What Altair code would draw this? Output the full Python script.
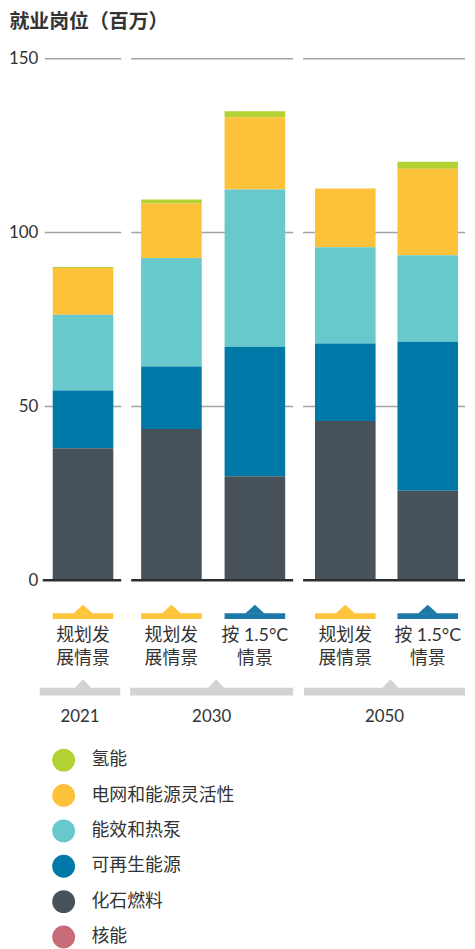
import altair as alt
import pandas as pd

# ---------------- data ----------------
categories = ["氢能", "电网和能源灵活性", "能效和热泵", "可再生能源", "化石燃料", "核能"]
cat_colors = ["#b3d334", "#fec23a", "#67c9cb", "#0079a9", "#48525a", "#c86c7a"]
stack_rank = [5, 4, 3, 2, 1, 0]  # 0 = bottom of the stack

bar_ids = ["2021 规划发展情景", "2030 规划发展情景", "2030 按1.5°C情景",
           "2050 规划发展情景", "2050 按1.5°C情景"]
bar_years = ["2021", "2030", "2030", "2050", "2050"]
scenario_line1 = ["规划发", "规划发", "按 1.5°C", "规划发", "按 1.5°C"]
scenario_line2 = ["展情景", "展情景", "情景", "展情景", "情景"]
scenario_colors = ["#fec43a", "#fec43a", "#1f79a8", "#fec43a", "#1f79a8"]

hydrogen = [0.3, 1.1, 1.7, 0.0, 2.0]
grid_flex = [13.4, 15.7, 20.8, 16.9, 24.9]
efficiency = [21.8, 31.2, 45.2, 27.7, 24.9]
renewables = [16.6, 18.0, 37.3, 22.3, 42.8]
fossil = [38.0, 43.5, 29.9, 45.8, 25.8]
nuclear = [0.0, 0.0, 0.0, 0.0, 0.0]

years = ["2021", "2030", "2050"]
y_ticks = [0, 50, 100, 150]
grid_values = [50, 100, 150]

# ---------------- layout (panel sizes / band paddings / group bracket) ----------------
panel_widths = [77, 163, 163]
band_pad = [(0.2, 0.1, 0.5), (0.5, 0.2202, 0.527), (0.5, 0.232, 0.565)]  # inner, outer, align
bracket_x = [(-5, 76), (-1, 163), (1, 163)]
bracket_tip = [38.5, 85.5, 88]

# ---------------- tables ----------------
series = [hydrogen, grid_flex, efficiency, renewables, fossil, nuclear]
rows = []
for i, bid in enumerate(bar_ids):
    for c, s, r in zip(categories, series, stack_rank):
        rows.append({"bar": bid, "year": bar_years[i], "cat": c, "value": s[i], "rank": r})
df = pd.DataFrame(rows)

scen_df = pd.DataFrame({"bar": bar_ids, "year": bar_years, "line1": scenario_line1,
                        "line2": scenario_line2, "mcolor": scenario_colors})

FONT = "Lato, 'Noto Sans CJK SC', sans-serif"
TXT = "#333333"
H = 525
TITLE = "就业岗位（百万）"

legend = alt.Legend(orient="none", legendX=7.5, legendY=694.5, title=None,
                    symbolType="circle", symbolSize=529, symbolStrokeWidth=0,
                    symbolOpacity=1, labelFontSize=18, labelColor=TXT,
                    labelFont=FONT, labelOffset=16.5, rowPadding=12.6,
                    padding=0, labelLimit=400, direction="vertical")


def panel(k):
    year, W = years[k], panel_widths[k]
    pin, pout, palign = band_pad[k]
    ids = [b for b, y in zip(bar_ids, bar_years) if y == year]
    xs = alt.Scale(domain=ids, paddingInner=pin, paddingOuter=pout, align=palign)
    ys = alt.Scale(domain=[0, 150], nice=False)
    if k == 0:
        yaxis = alt.Axis(values=y_ticks, title=TITLE, titleAngle=0,
                         titleAlign="left", titleBaseline="top", titleX=-36, titleY=-47.5,
                         titleFontSize=20, titleFontWeight="bold", titleColor=TXT,
                         titleFont=FONT, labelFontSize=17, labelColor=TXT, labelFont=FONT,
                         labelPadding=7, ticks=False, domain=False, grid=False,
                         labelFlush=False)
    else:
        yaxis = None

    sub = df[df["year"] == year]
    sc = scen_df[scen_df["year"] == year]
    one = pd.DataFrame({"year": [year]})
    bx1, bx2 = bracket_x[k]

    gridl = alt.Chart(pd.DataFrame({"v": grid_values})).mark_rule(
        color="#a3a3a3", strokeWidth=1.5).encode(
        y=alt.Y("v:Q", scale=ys, axis=yaxis, title=TITLE),
        x=alt.value(0), x2=alt.value(W))

    bars = alt.Chart(sub).mark_bar(width=61).encode(
        x=alt.X("bar:N", scale=xs, axis=None),
        y=alt.Y("value:Q", stack=True, scale=ys, axis=yaxis, title=TITLE),
        color=alt.Color("cat:N", scale=alt.Scale(domain=categories, range=cat_colors),
                        legend=legend),
        order=alt.Order("rank:Q", sort="ascending"),
    )

    base = alt.Chart(pd.DataFrame({"v": [0]})).mark_rule(
        color="#2e2e2e", strokeWidth=2.5).encode(
        y=alt.Y("v:Q", scale=ys, axis=yaxis, title=TITLE),
        x=alt.value(-2 if k == 0 else 0), x2=alt.value(W))

    mark_bar = alt.Chart(sc).mark_bar(width=61).encode(
        x=alt.X("bar:N", scale=xs, axis=None),
        y=alt.value(558), y2=alt.value(564),
        fill=alt.Fill("mcolor:N", scale=None))

    mark_tri = alt.Chart(sc).mark_point(
        shape="M-1,0L0,-0.9L1,0Z", size=400, filled=True, opacity=1, strokeWidth=0).encode(
        x=alt.X("bar:N", scale=xs, axis=None),
        y=alt.value(558.5),
        fill=alt.Fill("mcolor:N", scale=None))

    label1 = alt.Chart(sc).mark_text(
        fontSize=18, baseline="middle", align="center", color=TXT, font=FONT).encode(
        x=alt.X("bar:N", scale=xs, axis=None),
        y=alt.value(581.5),
        text="line1:N")

    label2 = alt.Chart(sc).mark_text(
        fontSize=18, baseline="middle", align="center", color=TXT, font=FONT).encode(
        x=alt.X("bar:N", scale=xs, axis=None),
        y=alt.value(604),
        text="line2:N")

    gbar = alt.Chart(one).mark_rect(color="#d3d3d5").encode(
        x=alt.value(bx1), x2=alt.value(bx2), y=alt.value(633), y2=alt.value(641))

    gtri = alt.Chart(one).mark_point(
        shape="M-1,0L0,-1.05L1,0Z", size=289, filled=True, opacity=1,
        strokeWidth=0, color="#d3d3d5").encode(
        x=alt.value(bracket_tip[k]), y=alt.value(633.5))

    ylab = alt.Chart(one).mark_text(fontSize=17, color=TXT, font=FONT,
                                    baseline="middle", align="center").encode(
        x=alt.value((bx1 + bx2) / 2), y=alt.value(662.5), text="year:N")

    return alt.layer(gridl, bars, base, mark_bar, mark_tri, label1, label2,
                     gbar, gtri, ylab).properties(width=W, height=H)


panels = [panel(k) for k in range(3)]

chart = alt.hconcat(*panels, spacing=10, bounds="flush").properties(
    padding=0
).configure(font=FONT).configure_view(strokeWidth=0)

chart.save("out.html", embed_options={"renderer": "svg", "actions": False})
